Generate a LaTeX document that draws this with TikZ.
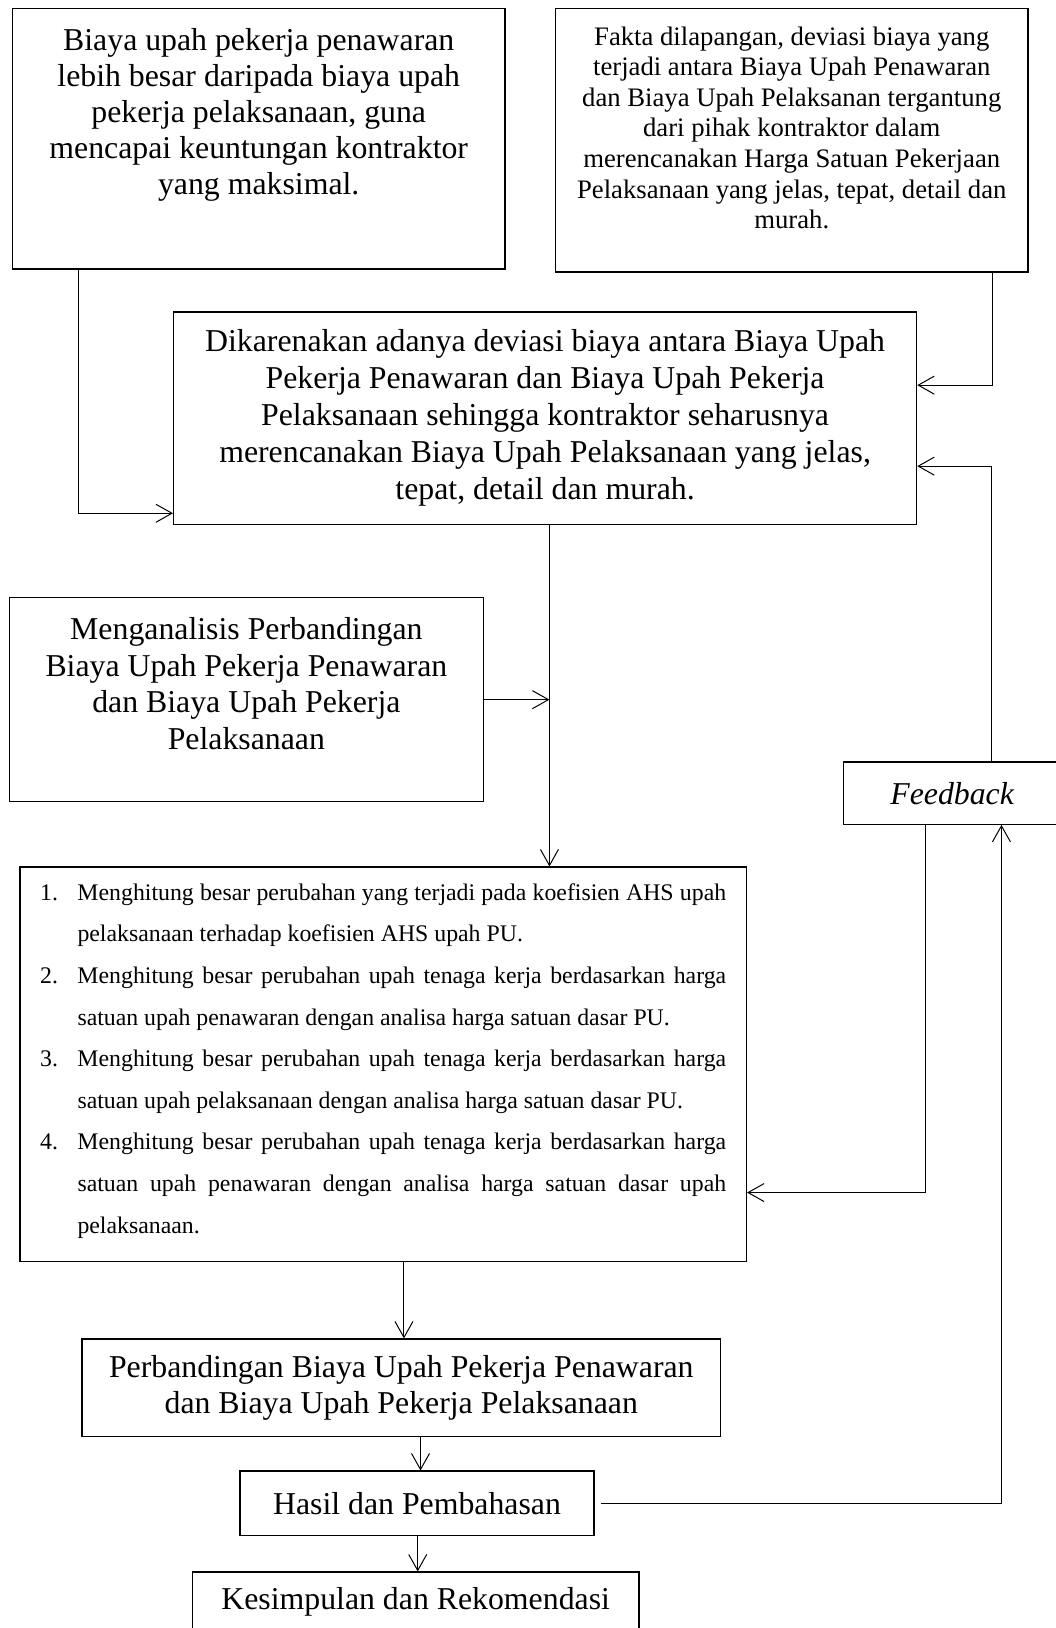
\documentclass[tikz,border=0pt]{standalone}
\usepackage{fontspec}
\setmainfont{Liberation Serif}
\usetikzlibrary{arrows.meta}

\newcommand{\hurufbesar}{\fontsize{31.8}{36}\selectfont}
\newcommand{\hurufsedang}{\fontsize{26.7}{30.6}\selectfont}
\newcommand{\hurufkecil}{\fontsize{23.8}{41.6}\selectfont}
\newcommand{\langkah}[2]{\noindent\hangindent=37.3pt\hangafter=1\makebox[37.3pt][l]{\strut#1}#2\par}

\begin{document}
\begin{tikzpicture}[x=1pt, y=-1pt]
  \tikzstyle{box} = [draw, line width=1.1pt, rectangle, inner sep=0pt, align=center, font=\hurufbesar]
  \tikzstyle{txt} = [inner sep=0pt, align=center, anchor=north]
  \tikzstyle{arr} = [line width=1pt, -{Straight Barb[length=16pt, width=18pt, line width=1pt]}]

  \useasboundingbox (0,0) rectangle (1055,1628);

  % Top boxes
  \node[box, minimum width=492.5pt, minimum height=260.7pt] (upah) at (258.75,138.65) {};
  \node[txt, font=\hurufbesar] (upah-txt) at (258.75,25.5)
    {\strut Biaya upah pekerja penawaran\\lebih besar daripada biaya upah\\pekerja pelaksanaan, guna\\mencapai keuntungan kontraktor\\yang maksimal.};
  \node[box, minimum width=472.5pt, minimum height=263.7pt] (fakta) at (791.75,140.15) {};
  \node[txt, font=\hurufsedang] (fakta-txt) at (791.75,23.5)
    {\strut Fakta dilapangan, deviasi biaya yang\\terjadi antara Biaya Upah Penawaran\\dan Biaya Upah Pelaksanan tergantung\\dari pihak kontraktor dalam\\merencanakan Harga Satuan Pekerjaan\\Pelaksanaan yang jelas, tepat, detail dan\\murah.};

  % Middle boxes
  \node[box, minimum width=743.2pt, minimum height=212.3pt, font=\fontsize{31.8}{37}\selectfont] (deviasi) at (545.1,418.15)
    {Dikarenakan adanya deviasi biaya antara Biaya Upah\\Pekerja Penawaran dan Biaya Upah Pekerja\\Pelaksanaan sehingga kontraktor seharusnya\\merencanakan Biaya Upah Pelaksanaan yang jelas,\\tepat, detail dan murah.};
  \node[box, minimum width=473.8pt, minimum height=204.3pt] (analisis) at (246.4,699.65) {};
  \node[txt, font=\fontsize{31.8}{36.7}\selectfont] (analisis-txt) at (246.4,613.5)
    {\strut Menganalisis Perbandingan\\Biaya Upah Pekerja Penawaran\\dan Biaya Upah Pekerja\\Pelaksanaan};
  \node[box, minimum width=217.7pt, minimum height=62.3pt, font=\hurufbesar\itshape] (feedback) at (952.15,793.15) {Feedback};

  % List box
  \node[box, minimum width=726.5pt, minimum height=394.7pt] (hitung) at (383.25,1064.35) {};
  \node[inner sep=0pt, anchor=north west, text width=686pt, align=justify, font=\hurufkecil] (hitung-txt) at (40,870.9)
    {\langkah{1.}{Menghitung besar perubahan yang terjadi pada koefisien AHS upah\linebreak pelaksanaan terhadap koefisien AHS upah PU.}
     \langkah{2.}{Menghitung besar perubahan upah tenaga kerja berdasarkan harga\linebreak satuan upah penawaran dengan analisa harga satuan dasar PU.}
     \langkah{3.}{Menghitung besar perubahan upah tenaga kerja berdasarkan harga\linebreak satuan upah pelaksanaan dengan analisa harga satuan dasar PU.}
     \langkah{4.}{Menghitung besar perubahan upah tenaga kerja berdasarkan harga\linebreak satuan upah penawaran dengan analisa harga satuan dasar upah\linebreak pelaksanaan.}};

  % Bottom boxes
  \node[box, minimum width=638.6pt, minimum height=97.7pt] (banding) at (401.3,1387.85)
    {Perbandingan Biaya Upah Pekerja Penawaran\\dan Biaya Upah Pekerja Pelaksanaan};
  \node[box, minimum width=354pt, minimum height=64.3pt] (hasil) at (417,1503.15) {Hasil dan Pembahasan};
  \node[box, minimum width=446.7pt, minimum height=60pt] (simpul) at (415.65,1602) {Kesimpulan dan Rekomendasi};

  % Connections
  \coordinate (poros) at ([xshift=376.5pt]deviasi.south west);
  \draw[arr] ([xshift=67pt]upah.south west) |- ([yshift=11.6pt]deviasi.south west);
  \draw[arr] ([xshift=-36pt]fakta.south east) |- ([yshift=-73.7pt]deviasi.north east);
  \draw[arr] ([xshift=148.7pt]feedback.north west) |- ([yshift=-154.7pt]deviasi.north east);
  \draw[arr] (poros) -- (poros |- hitung.north);
  \draw[arr] (analisis.east) -- (analisis.east -| poros);
  \draw[arr] ([xshift=82.7pt]feedback.south west) |- ([yshift=69.7pt]hitung.south east);
  \draw[arr, shorten <=6pt] (hasil.east) -| ([xshift=158.7pt]feedback.south west);

  % Downward arrows
  \foreach \dari/\ke/\geser in {hitung/banding/20.7, banding/hasil/19.2, hasil/simpul/0.7}
    \draw[arr] ([xshift=\geser pt]\dari.south) -- ([xshift=\geser pt]\dari.south |- \ke.north);

\end{tikzpicture}
\end{document}
